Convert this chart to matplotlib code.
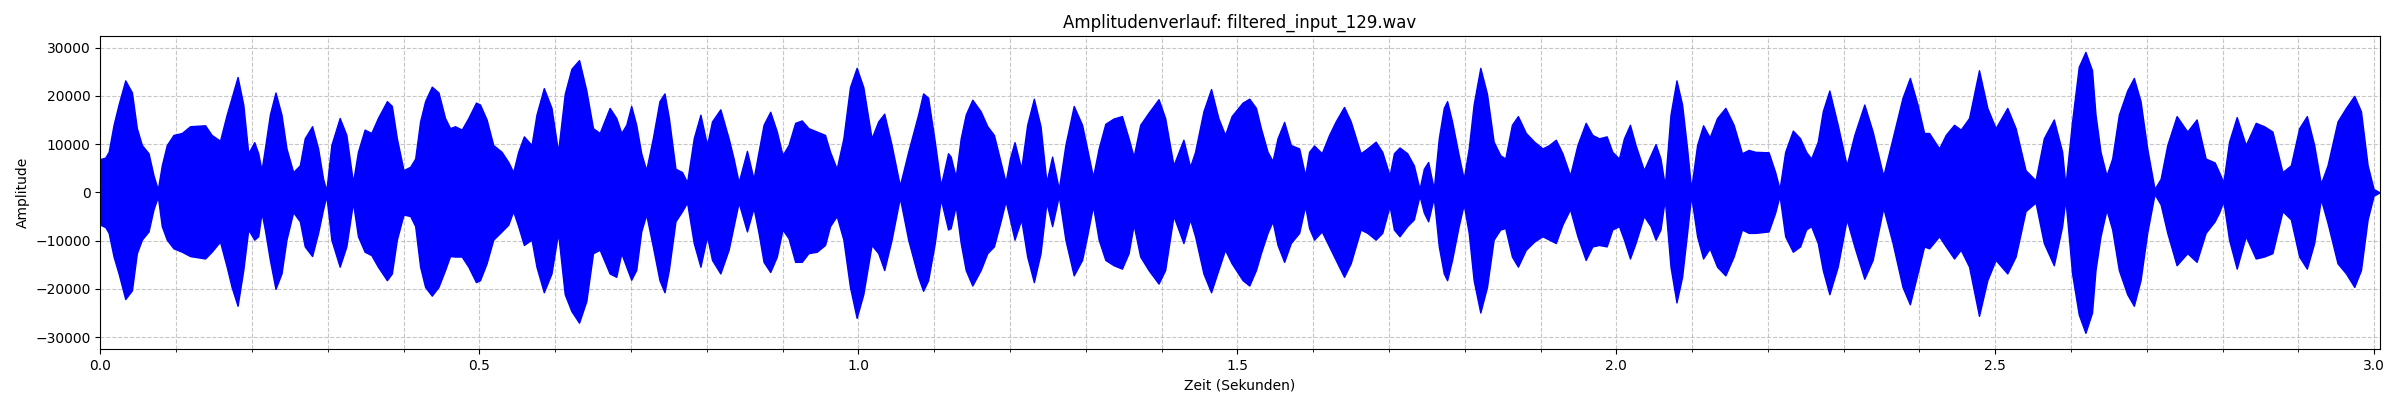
import matplotlib
matplotlib.use("Agg")
import matplotlib.pyplot as plt
from matplotlib.ticker import MultipleLocator

# Envelope of the waveform (seconds, upper, lower)
zeit = [
    0.0000, 0.0066, 0.0110, 0.0175, 0.0241, 0.0329, 0.0417, 0.0482, 0.0548, 0.0636,
    0.0702, 0.0759, 0.0811, 0.0877, 0.0965, 0.1075, 0.1184, 0.1382, 0.1469, 0.1579,
    0.1667, 0.1732, 0.1811, 0.1886, 0.1952, 0.2031, 0.2083, 0.2127, 0.2171, 0.2237,
    0.2311, 0.2390, 0.2456, 0.2544, 0.2632, 0.2697, 0.2794, 0.2873, 0.2939, 0.2982,
    0.3048, 0.3158, 0.3246, 0.3333, 0.3399, 0.3487, 0.3575, 0.3662, 0.3781, 0.3846,
    0.3912, 0.4000, 0.4088, 0.4154, 0.4219, 0.4285, 0.4373, 0.4461, 0.4548, 0.4614,
    0.4680, 0.4768, 0.4855, 0.4956, 0.5009, 0.5096, 0.5184, 0.5294, 0.5382, 0.5447,
    0.5513, 0.5588, 0.5689, 0.5754, 0.5851, 0.5952, 0.6039, 0.6127, 0.6215, 0.6316,
    0.6412, 0.6500, 0.6588, 0.6719, 0.6807, 0.6873, 0.6939, 0.7004, 0.7070, 0.7136,
    0.7202, 0.7289, 0.7377, 0.7443, 0.7500, 0.7588, 0.7675, 0.7741, 0.7829, 0.7917,
    0.8004, 0.8070, 0.8180, 0.8289, 0.8355, 0.8421, 0.8531, 0.8618, 0.8684, 0.8750,
    0.8838, 0.8925, 0.9000, 0.9079, 0.9167, 0.9254, 0.9342, 0.9452, 0.9561, 0.9627,
    0.9715, 0.9803, 0.9890, 0.9978, 1.0066, 1.0175, 1.0263, 1.0342, 1.0439, 1.0548,
    1.0658, 1.0789, 1.0855, 1.0921, 1.1009, 1.1088, 1.1184, 1.1219, 1.1285, 1.1351,
    1.1417, 1.1504, 1.1614, 1.1702, 1.1789, 1.1877, 1.1943, 1.2000, 1.2061, 1.2149,
    1.2228, 1.2316, 1.2404, 1.2482, 1.2557, 1.2645, 1.2732, 1.2842, 1.2952, 1.3018,
    1.3096, 1.3171, 1.3259, 1.3368, 1.3478, 1.3566, 1.3632, 1.3719, 1.3829, 1.3961,
    1.4048, 1.4158, 1.4289, 1.4377, 1.4443, 1.4553, 1.4654, 1.4750, 1.4838, 1.4925,
    1.5070, 1.5158, 1.5246, 1.5311, 1.5399, 1.5465, 1.5531, 1.5618, 1.5706, 1.5816,
    1.5895, 1.5947, 1.6013, 1.6114, 1.6211, 1.6298, 1.6408, 1.6496, 1.6627, 1.6715,
    1.6825, 1.6912, 1.7009, 1.7066, 1.7140, 1.7241, 1.7329, 1.7404, 1.7461, 1.7518,
    1.7592, 1.7658, 1.7724, 1.7768, 1.7833, 1.7921, 1.7987, 1.8053, 1.8118, 1.8206,
    1.8294, 1.8382, 1.8469, 1.8535, 1.8623, 1.8702, 1.8807, 1.8917, 1.9026, 1.9114,
    1.9202, 1.9289, 1.9390, 1.9487, 1.9596, 1.9684, 1.9772, 1.9873, 1.9947, 2.0035,
    2.0101, 2.0180, 2.0254, 2.0364, 2.0452, 2.0518, 2.0583, 2.0640, 2.0715, 2.0794,
    2.0868, 2.0934, 2.0987, 2.1066, 2.1145, 2.1232, 2.1329, 2.1439, 2.1548, 2.1658,
    2.1746, 2.1833, 2.2009, 2.2096, 2.2154, 2.2228, 2.2329, 2.2425, 2.2504, 2.2570,
    2.2658, 2.2724, 2.2811, 2.2921, 2.3039, 2.3140, 2.3272, 2.3382, 2.3522, 2.3645,
    2.3776, 2.3873, 2.3974, 2.4061, 2.4127, 2.4259, 2.4346, 2.4456, 2.4544, 2.4654,
    2.4785, 2.4895, 2.5004, 2.5158, 2.5268, 2.5399, 2.5531, 2.5640, 2.5772, 2.5882,
    2.5925, 2.6013, 2.6101, 2.6189, 2.6276, 2.6322, 2.6388, 2.6467, 2.6542, 2.6630,
    2.6740, 2.6828, 2.6916, 2.7004, 2.7101, 2.7181, 2.7269, 2.7392, 2.7533, 2.7656,
    2.7775, 2.7894, 2.7952, 2.8009, 2.8084, 2.8185, 2.8304, 2.8436, 2.8546, 2.8656,
    2.8789, 2.8899, 2.9009, 2.9110, 2.9207, 2.9295, 2.9383, 2.9515, 2.9626, 2.9736,
    2.9824, 2.9912, 2.9991, 3.0053, 3.0070,
]
oben = [
    6900, 7200, 8400, 14000, 18200, 23200, 20700, 13300, 9800, 8100,
    3500, 600, 5600, 9800, 11900, 12300, 13700, 13900, 11900, 10700,
    16100, 19600, 23900, 18200, 8100, 10400, 8100, 4600, 9100, 16100,
    20700, 16100, 9100, 4200, 5600, 11200, 13700, 9100, 2800, 400,
    9800, 15400, 11900, 2100, 8400, 13000, 12300, 15400, 18900, 17900,
    11200, 4600, 5300, 7000, 14700, 18900, 21900, 20700, 15400, 13300,
    13700, 13000, 15400, 18600, 18200, 15100, 9800, 8400, 6300, 4200,
    8400, 11600, 9800, 16100, 21600, 17500, 8400, 20400, 25600, 27400,
    21100, 13300, 12300, 17500, 15400, 12300, 14000, 17900, 14000, 8100,
    4600, 11200, 18900, 20500, 15500, 4900, 4200, 2100, 11200, 16100,
    9800, 14700, 17200, 11200, 7000, 2100, 8600, 2800, 8400, 14000,
    16700, 12600, 7700, 9800, 14400, 14900, 13300, 12600, 11900, 8400,
    4900, 11200, 21800, 25800, 21800, 11200, 14700, 16300, 9800, 1400,
    8400, 16100, 20500, 19600, 10500, 1400, 8100, 7400, 3200, 11200,
    16100, 19200, 16800, 13700, 11900, 6300, 2100, 7000, 10400, 4900,
    14000, 19400, 13700, 2100, 7400, 700, 9800, 17900, 14000, 9100,
    3200, 9100, 14200, 15300, 15800, 11200, 7400, 14000, 16500, 19300,
    15400, 5600, 10900, 5300, 8400, 16800, 21400, 15400, 11900, 15800,
    18600, 19400, 17500, 13300, 8400, 6500, 11200, 14600, 9800, 9100,
    3500, 8400, 9700, 8100, 11900, 14700, 17700, 14700, 8100, 9100,
    10500, 8400, 3500, 8100, 9300, 8100, 5600, 700, 4900, 6300,
    700, 11200, 17500, 18900, 14700, 7700, 2800, 9100, 18200, 25800,
    20400, 10500, 7700, 7000, 14000, 15800, 12300, 10500, 9100, 9800,
    10900, 8100, 3500, 9800, 14400, 11900, 11200, 11600, 8400, 7000,
    11200, 14000, 9800, 4600, 7700, 10000, 7000, 1400, 16100, 23200,
    18200, 9100, 700, 9800, 13900, 11400, 15400, 17500, 14000, 8100,
    8800, 8400, 8300, 4200, 700, 8400, 12800, 11200, 8400, 7000,
    10500, 16800, 21100, 14000, 5600, 11900, 18200, 12600, 3400, 11200,
    19600, 23700, 18200, 12300, 12300, 9100, 11900, 14000, 13000, 15400,
    25300, 17500, 13300, 17500, 13300, 4600, 2500, 11200, 15100, 8400,
    1400, 14700, 26000, 29100, 25300, 16100, 8400, 3500, 7000, 16100,
    21100, 23700, 18900, 9100, 700, 2800, 9800, 15800, 12600, 15100,
    7000, 6200, 4200, 2100, 10500, 15600, 9800, 14400, 13700, 12600,
    4200, 5600, 13300, 15800, 9800, 1800, 5600, 14700, 17500, 20000,
    16800, 5600, 700, 150, 0,
]
unten = [
    -6700, -7200, -8400, -13300, -16800, -22100, -20300, -12600, -9800, -8100,
    -3500, -900, -7000, -9800, -11600, -12300, -13200, -13700, -12300, -10200,
    -15400, -19600, -23500, -16100, -7700, -9800, -9100, -4200, -7700, -14000,
    -20000, -16800, -9800, -4100, -6000, -11200, -13200, -8400, -3500, -700,
    -9800, -15400, -11200, -2100, -9100, -12300, -13000, -15400, -18200, -16800,
    -9800, -4600, -4900, -7000, -15400, -19600, -21400, -19600, -16100, -13200,
    -13300, -13300, -15400, -18600, -18200, -14700, -9800, -8100, -6700, -3900,
    -7000, -10900, -9800, -15400, -20700, -16800, -8400, -21100, -24600, -27000,
    -22500, -12600, -11900, -16800, -17500, -12600, -15400, -18100, -16100, -8100,
    -4600, -11200, -18200, -20700, -16100, -6000, -3900, -2100, -10500, -15400,
    -9100, -14000, -16800, -11900, -7000, -2100, -8100, -3200, -8400, -14400,
    -16500, -13300, -7700, -9500, -14400, -14400, -12600, -12300, -10900, -7000,
    -4900, -9800, -19600, -26000, -21100, -10900, -12600, -16100, -9800, -1100,
    -9800, -17500, -20400, -18200, -10500, -1400, -7700, -7400, -2800, -10500,
    -16100, -19300, -16100, -12600, -11200, -6000, -1800, -5600, -9800, -5600,
    -13300, -18600, -12600, -2100, -7000, -700, -9800, -17200, -14000, -9100,
    -2800, -9800, -14000, -15100, -15800, -12600, -6700, -13300, -16100, -18900,
    -16100, -4900, -10500, -5600, -9100, -16800, -20700, -16100, -11900, -14700,
    -18200, -19300, -16100, -12600, -8400, -6000, -10900, -14400, -10500, -8400,
    -2800, -7400, -9800, -8100, -11200, -14000, -17500, -14700, -7700, -8400,
    -9800, -8400, -2800, -7700, -9100, -7000, -5600, -700, -4200, -6000,
    -1100, -11200, -16800, -18200, -14000, -7000, -2500, -8400, -18200, -24900,
    -19600, -9800, -7700, -7400, -13300, -15400, -11900, -10200, -9100, -9800,
    -10500, -6700, -3500, -9100, -14000, -11200, -10900, -11200, -7700, -7000,
    -9800, -13700, -10500, -4900, -7000, -9800, -7700, -1400, -15400, -22800,
    -17500, -8400, -700, -9100, -13700, -11600, -15400, -17200, -13300, -7700,
    -8400, -8400, -8100, -4200, -700, -9100, -12300, -11200, -7700, -7000,
    -10500, -16100, -21100, -15400, -5600, -11200, -17900, -14000, -3200, -10500,
    -19600, -23200, -16800, -11200, -11600, -9100, -11200, -13700, -11900, -15400,
    -25600, -18200, -14000, -16800, -13300, -3900, -2100, -10500, -15100, -7000,
    -1400, -16800, -25300, -29100, -24900, -16100, -9100, -3600, -7700, -16100,
    -21100, -23500, -18200, -8400, -350, -2500, -8400, -15100, -12600, -14400,
    -8400, -6000, -4200, -1800, -9800, -15800, -9100, -13700, -13300, -12600,
    -3900, -5600, -13300, -15800, -10500, -1400, -6300, -14700, -16800, -19600,
    -16100, -5600, -700, -150, 0,
]

titel = "Amplitudenverlauf: filtered_input_129.wav"

fig, ax = plt.subplots(figsize=(24, 4), dpi=100)
fig.subplots_adjust(left=0.0418, right=0.9915, bottom=0.1275, top=0.9107)

ax.fill_between(zeit, unten, oben, color="blue", edgecolor="blue", linewidth=1.0)

ax.set_xlim(0, 3.007)
ax.set_ylim(-32450, 32450)
ax.xaxis.set_major_locator(MultipleLocator(0.5))
ax.xaxis.set_minor_locator(MultipleLocator(0.1))
ax.yaxis.set_major_locator(MultipleLocator(10000))

ax.grid(True, which="both", linestyle="--", alpha=0.7)
ax.set_axisbelow(True)

ax.set_title(titel)
ax.set_xlabel("Zeit (Sekunden)")
ax.set_ylabel("Amplitude")

fig.savefig("out.png", dpi=100)
